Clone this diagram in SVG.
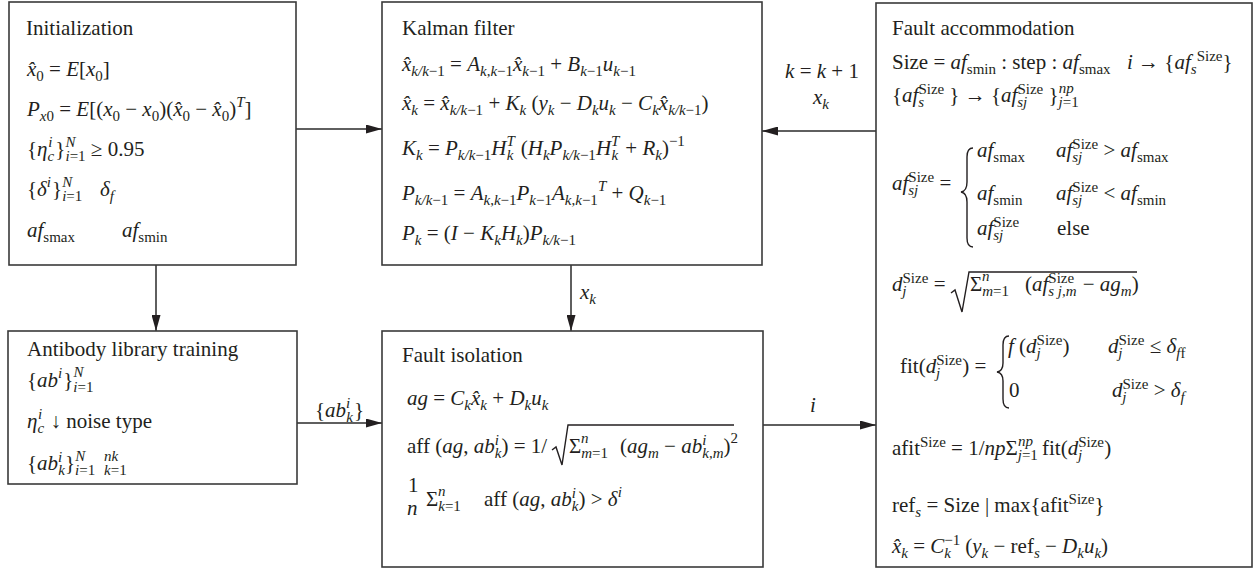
<svg xmlns="http://www.w3.org/2000/svg" width="1255" height="569" viewBox="0 0 1255 569">
<defs>
<style>
text{font-family:"Liberation Serif","Times New Roman",serif;font-size:21px;fill:#231f20}
.i{font-style:italic}
.s{font-size:15px}
.box{fill:#fff;stroke:#3a3a3a;stroke-width:1.6}
.ln{fill:none;stroke:#2a2a2a;stroke-width:1.5}
.mth{fill:none;stroke:#231f20;stroke-width:1.4}
</style>
<marker id="arr" viewBox="0 0 16 9" refX="16" refY="4.5" markerWidth="16" markerHeight="9" markerUnits="userSpaceOnUse" orient="auto"><path d="M0,0 L16,4.5 L0,9 z" fill="#231f20"/></marker>
</defs>
<rect width="1255" height="569" fill="#fff"/>

<g id="connectors">
<path class="ln" d="M296,129 H382" marker-end="url(#arr)"/>
<path class="ln" d="M876,131 H762" marker-end="url(#arr)"/>
<path class="ln" d="M156,265 V331" marker-end="url(#arr)"/>
<path class="ln" d="M571,265 V331" marker-end="url(#arr)"/>
<path class="ln" d="M297,423 H382" marker-end="url(#arr)"/>
<path class="ln" d="M763,425 H876" marker-end="url(#arr)"/>
<text x="822" y="78" text-anchor="middle"><tspan class="i">k</tspan> = <tspan class="i">k</tspan> + 1</text>
<text x="813" y="104"><tspan class="i">x</tspan><tspan class="s i" y="109">k</tspan></text>
<text x="580" y="299"><tspan class="i">x</tspan><tspan class="s i" y="304">k</tspan></text>
<text x="315" y="417">{<tspan class="i">ab</tspan><tspan class="s i" y="408">i</tspan><tspan class="s i" y="422" dx="-4">k</tspan><tspan y="417" dx="1">}</tspan></text>
<text x="810" y="412" class="i">i</text>
</g>

<g id="init">
<rect class="box" x="9" y="2" width="287" height="263"/>
<text x="26" y="35">Initialization</text>
<text x="27" y="76"><tspan class="i">x&#x302;</tspan><tspan class="s" y="81">0</tspan><tspan y="76"> = <tspan class="i">E</tspan>[<tspan class="i">x</tspan></tspan><tspan class="s" y="81">0</tspan><tspan y="76">]</tspan></text>
<text x="27" y="116"><tspan class="i">P</tspan><tspan class="s" y="121"><tspan class="i">x</tspan>0</tspan><tspan y="116"> = <tspan class="i">E</tspan>[(<tspan class="i">x</tspan></tspan><tspan class="s" y="121">0</tspan><tspan y="116"> − <tspan class="i">x</tspan></tspan><tspan class="s" y="121">0</tspan><tspan y="116">)(<tspan class="i">x&#x302;</tspan></tspan><tspan class="s" y="121">0</tspan><tspan y="116"> − <tspan class="i">x&#x302;</tspan></tspan><tspan class="s" y="121">0</tspan><tspan y="116">)</tspan><tspan class="s i" y="107">T</tspan><tspan y="116">]</tspan></text>
<text x="27" y="156">{<tspan class="i">η</tspan><tspan class="s i" y="161">c</tspan><tspan class="s i" dx="-6" y="147">i</tspan><tspan y="156" dx="3">}</tspan><tspan class="s" y="161"><tspan class="i">i</tspan>=1</tspan><tspan class="s i" dx="-20" y="147">N</tspan><tspan y="156" dx="10"> ≥ 0.95</tspan></text>
<text x="27" y="196">{<tspan class="i">δ</tspan><tspan class="s i" y="187">i</tspan><tspan y="196" dx="1">}</tspan><tspan class="s" y="201"><tspan class="i">i</tspan>=1</tspan><tspan class="s i" dx="-20" y="187">N</tspan><tspan class="i" y="196" x="100">δ</tspan><tspan class="s i" y="201">f</tspan></text>
<text x="27" y="237"><tspan class="i">af</tspan><tspan class="s" y="242">smax</tspan><tspan class="i" y="237" x="122">af</tspan><tspan class="s" y="242">smin</tspan></text>
</g>

<g id="kalman">
<rect class="box" x="382" y="2" width="380" height="263"/>
<text x="402" y="35">Kalman filter</text>
<text x="402" y="71"><tspan class="i">x&#x302;</tspan><tspan class="s" y="76"><tspan class="i">k/k</tspan>−1</tspan><tspan y="71"> = <tspan class="i">A</tspan></tspan><tspan class="s" y="76"><tspan class="i">k</tspan>,<tspan class="i">k</tspan>−1</tspan><tspan class="i" y="71">x&#x302;</tspan><tspan class="s" y="76"><tspan class="i">k</tspan>−1</tspan><tspan y="71"> + <tspan class="i">B</tspan></tspan><tspan class="s" y="76"><tspan class="i">k</tspan>−1</tspan><tspan class="i" y="71">u</tspan><tspan class="s" y="76"><tspan class="i">k</tspan>−1</tspan></text>
<text x="402" y="110"><tspan class="i">x&#x302;</tspan><tspan class="s i" y="115">k</tspan><tspan y="110"> = <tspan class="i">x&#x302;</tspan></tspan><tspan class="s" y="115"><tspan class="i">k/k</tspan>−1</tspan><tspan y="110"> + <tspan class="i">K</tspan></tspan><tspan class="s i" y="115">k</tspan><tspan y="110"> (<tspan class="i">y</tspan></tspan><tspan class="s i" y="115">k</tspan><tspan y="110"> − <tspan class="i">D</tspan></tspan><tspan class="s i" y="115">k</tspan><tspan class="i" y="110">u</tspan><tspan class="s i" y="115">k</tspan><tspan y="110"> − <tspan class="i">C</tspan></tspan><tspan class="s i" y="115">k</tspan><tspan class="i" y="110">x&#x302;</tspan><tspan class="s" y="115"><tspan class="i">k/k</tspan>−1</tspan><tspan y="110">)</tspan></text>
<text x="402" y="155"><tspan class="i">K</tspan><tspan class="s i" y="160">k</tspan><tspan y="155"> = <tspan class="i">P</tspan></tspan><tspan class="s" y="160"><tspan class="i">k/k</tspan>−1</tspan><tspan class="i" y="155">H</tspan><tspan class="s i" y="146">T</tspan><tspan class="s i" y="160" dx="-8">k</tspan><tspan y="155" dx="2"> (<tspan class="i">H</tspan></tspan><tspan class="s i" y="160">k</tspan><tspan class="i" y="155">P</tspan><tspan class="s" y="160"><tspan class="i">k/k</tspan>−1</tspan><tspan class="i" y="155">H</tspan><tspan class="s i" y="146">T</tspan><tspan class="s i" y="160" dx="-8">k</tspan><tspan y="155" dx="2"> + <tspan class="i">R</tspan></tspan><tspan class="s i" y="160">k</tspan><tspan y="155">)</tspan><tspan class="s" y="146">−1</tspan></text>
<text x="402" y="200"><tspan class="i">P</tspan><tspan class="s" y="205"><tspan class="i">k/k</tspan>−1</tspan><tspan y="200"> = <tspan class="i">A</tspan></tspan><tspan class="s" y="205"><tspan class="i">k</tspan>,<tspan class="i">k</tspan>−1</tspan><tspan class="i" y="200">P</tspan><tspan class="s" y="205"><tspan class="i">k</tspan>−1</tspan><tspan class="i" y="200">A</tspan><tspan class="s" y="205"><tspan class="i">k</tspan>,<tspan class="i">k</tspan>−1</tspan><tspan class="s i" y="191">T</tspan><tspan y="200"> + <tspan class="i">Q</tspan></tspan><tspan class="s" y="205"><tspan class="i">k</tspan>−1</tspan></text>
<text x="402" y="240"><tspan class="i">P</tspan><tspan class="s i" y="245">k</tspan><tspan y="240"> = (<tspan class="i">I</tspan> − <tspan class="i">K</tspan></tspan><tspan class="s i" y="245">k</tspan><tspan class="i" y="240">H</tspan><tspan class="s i" y="245">k</tspan><tspan y="240">)<tspan class="i">P</tspan></tspan><tspan class="s" y="245"><tspan class="i">k/k</tspan>−1</tspan></text>
</g>

<g id="accommodation">
<rect class="box" x="876" y="3" width="376" height="564"/>
<text x="892" y="35">Fault accommodation</text>
<text x="892" y="69">Size = <tspan class="i">af</tspan><tspan class="s" y="74">smin</tspan><tspan y="69"> : step : <tspan class="i">af</tspan></tspan><tspan class="s" y="74">smax</tspan></text>
<text x="1127" y="69"><tspan class="i">i</tspan> → {<tspan class="i">af</tspan><tspan class="s i" y="74">s</tspan><tspan class="s" y="61">Size</tspan><tspan y="69">}</tspan></text>
<text x="892" y="102">{<tspan class="i">af</tspan><tspan class="s" y="94">Size</tspan><tspan class="s i" y="107" dx="-26">s</tspan><tspan y="102" dx="20"> } → {<tspan class="i">af</tspan></tspan><tspan class="s" y="94">Size</tspan><tspan class="s i" y="107" dx="-26">sj</tspan><tspan y="102" dx="16"> }</tspan><tspan class="s i" y="107">j</tspan><tspan class="s" y="107">=1</tspan><tspan class="s i" y="93" dx="-20">np</tspan></text>
<text x="892" y="190"><tspan class="i">af</tspan><tspan class="s" y="182">Size</tspan><tspan class="s i" y="195" dx="-26">sj</tspan><tspan y="190" dx="16"> =</tspan></text>
<path class="mth" d="M973,148 Q967,148 967,157 L967,182 Q967,191 961,192 Q967,193 967,202 L967,238 Q967,247 973,247" stroke-width="1.8"/>
<text x="977" y="157"><tspan class="i">af</tspan><tspan class="s" y="162">smax</tspan></text>
<text x="1056" y="157"><tspan class="i">af</tspan><tspan class="s" y="149">Size</tspan><tspan class="s i" y="162" dx="-26">sj</tspan><tspan y="157" dx="16"> &gt; <tspan class="i">af</tspan></tspan><tspan class="s" y="162">smax</tspan></text>
<text x="977" y="200"><tspan class="i">af</tspan><tspan class="s" y="205">smin</tspan></text>
<text x="1056" y="200"><tspan class="i">af</tspan><tspan class="s" y="192">Size</tspan><tspan class="s i" y="205" dx="-26">sj</tspan><tspan y="200" dx="16"> &lt; <tspan class="i">af</tspan></tspan><tspan class="s" y="205">smin</tspan></text>
<text x="977" y="235"><tspan class="i">af</tspan><tspan class="s" y="227">Size</tspan><tspan class="s i" y="240" dx="-26">sj</tspan></text>
<text x="1057" y="235">else</text>
<text x="892" y="291"><tspan class="i">d</tspan><tspan class="s" y="283">Size</tspan><tspan class="s i" y="296" dx="-26">j</tspan><tspan y="291" dx="22"> =</tspan></text>
<path class="mth" d="M951,293 L955,290 L962,312 L969,272 L1137,272"/>
<text x="970" y="291">Σ<tspan class="s" y="296"><tspan class="i">m</tspan>=1</tspan><tspan class="s i" y="281" dx="-27">n</tspan><tspan y="291" x="1025">(<tspan class="i">af</tspan></tspan><tspan class="s" y="283">Size</tspan><tspan class="s i" y="296" dx="-26">s j,m</tspan><tspan y="291" dx="1"> − <tspan class="i">ag</tspan></tspan><tspan class="s i" y="296">m</tspan><tspan y="291">)</tspan></text>
<text x="900" y="373">fit(<tspan class="i">d</tspan><tspan class="s" y="365">Size</tspan><tspan class="s i" y="378" dx="-26">j</tspan><tspan y="373" dx="22">) =</tspan></text>
<path class="mth" d="M1009,336 Q1003,336 1003,345 L1003,363 Q1003,371 997,372 Q1003,373 1003,381 L1003,399 Q1003,408 1009,408" stroke-width="1.8"/>
<text x="1008" y="353"><tspan class="i">f</tspan> (<tspan class="i">d</tspan><tspan class="s" y="345">Size</tspan><tspan class="s i" y="358" dx="-26">j</tspan><tspan y="353" dx="22">)</tspan></text>
<text x="1108" y="353"><tspan class="i">d</tspan><tspan class="s" y="345">Size</tspan><tspan class="s i" y="358" dx="-26">j</tspan><tspan y="353" dx="22"> ≤ <tspan class="i">δ</tspan></tspan><tspan class="s" y="358"><tspan class="i">f</tspan>f</tspan></text>
<text x="1009" y="397">0</text>
<text x="1112" y="397"><tspan class="i">d</tspan><tspan class="s" y="389">Size</tspan><tspan class="s i" y="402" dx="-26">j</tspan><tspan y="397" dx="22"> &gt; <tspan class="i">δ</tspan></tspan><tspan class="s i" y="402">f</tspan></text>
<text x="892" y="455">afit<tspan class="s" y="447">Size</tspan><tspan y="455"> = 1/<tspan class="i">np</tspan>Σ</tspan><tspan class="s" y="460"><tspan class="i">j</tspan>=1</tspan><tspan class="s i" y="446" dx="-20">np</tspan><tspan y="455" x="1042">fit(<tspan class="i">d</tspan></tspan><tspan class="s" y="447">Size</tspan><tspan class="s i" y="460" dx="-26">j</tspan><tspan y="455" dx="22">)</tspan></text>
<text x="892" y="512">ref<tspan class="s i" y="517">s</tspan><tspan y="512"> = Size | max{afit</tspan><tspan class="s" y="504">Size</tspan><tspan y="512">}</tspan></text>
<text x="892" y="553"><tspan class="i">x&#x302;</tspan><tspan class="s i" y="558">k</tspan><tspan y="553"> = <tspan class="i">C</tspan></tspan><tspan class="s" y="545">−1</tspan><tspan class="s i" y="558" dx="-16">k</tspan><tspan y="553" dx="9"> (<tspan class="i">y</tspan></tspan><tspan class="s i" y="558">k</tspan><tspan y="553"> − ref</tspan><tspan class="s i" y="558">s</tspan><tspan y="553"> − <tspan class="i">D</tspan></tspan><tspan class="s i" y="558">k</tspan><tspan class="i" y="553">u</tspan><tspan class="s i" y="558">k</tspan><tspan y="553">)</tspan></text>
</g>

<g id="antibody">
<rect class="box" x="8" y="331" width="289" height="153"/>
<text x="27" y="356">Antibody library training</text>
<text x="27" y="387">{<tspan class="i">ab</tspan><tspan class="s i" y="378">i</tspan><tspan y="387" dx="1">}</tspan><tspan class="s" y="392"><tspan class="i">i</tspan>=1</tspan><tspan class="s i" y="377" dx="-20">N</tspan></text>
<text x="27" y="428"><tspan class="i">η</tspan><tspan class="s i" y="433">c</tspan><tspan class="s i" y="419" dx="-6">i</tspan><tspan y="428" dx="3"> ↓ noise type</tspan></text>
<text x="27" y="470">{<tspan class="i">ab</tspan><tspan class="s i" y="462">i</tspan><tspan class="s i" y="475" dx="-4">k</tspan><tspan y="470">}</tspan><tspan class="s" y="475"><tspan class="i">i</tspan>=1</tspan><tspan class="s i" y="461" dx="-20">N</tspan><tspan class="s i" y="461" x="104">nk</tspan><tspan class="s" y="475" x="104"><tspan class="i">k</tspan>=1</tspan></text>
</g>

<g id="isolation">
<rect class="box" x="382" y="331" width="381" height="236"/>
<text x="402" y="362">Fault isolation</text>
<text x="407" y="405"><tspan class="i">ag</tspan> = <tspan class="i">C</tspan><tspan class="s i" y="410">k</tspan><tspan class="i" y="405">x&#x302;</tspan><tspan class="s i" y="410">k</tspan><tspan y="405"> + <tspan class="i">D</tspan></tspan><tspan class="s i" y="410">k</tspan><tspan class="i" y="405">u</tspan><tspan class="s i" y="410">k</tspan></text>
<text x="407" y="453">aff (<tspan class="i">ag</tspan>, <tspan class="i">ab</tspan><tspan class="s i" y="445">i</tspan><tspan class="s i" y="458" dx="-4">k</tspan><tspan y="453">) = 1/</tspan></text>
<path class="mth" d="M552,450 L556,447 L562,465 L568,425 L734,425"/>
<text x="569" y="453">Σ<tspan class="s" y="458"><tspan class="i">m</tspan>=1</tspan><tspan class="s i" y="443" dx="-27">n</tspan><tspan y="453" x="620">(<tspan class="i">ag</tspan></tspan><tspan class="s i" y="458">m</tspan><tspan y="453"> − <tspan class="i">ab</tspan></tspan><tspan class="s i" y="445">i</tspan><tspan class="s i" y="458" dx="-4">k,m</tspan><tspan y="453">)</tspan><tspan class="s" y="443">2</tspan></text>
<text x="408" y="492">1</text>
<text x="407" y="515" class="i">n</text>
<text x="426" y="506">Σ<tspan class="s" y="511"><tspan class="i">k</tspan>=1</tspan><tspan class="s i" y="496" dx="-23">n</tspan><tspan y="506" x="484">aff (<tspan class="i">ag</tspan>, <tspan class="i">ab</tspan></tspan><tspan class="s i" y="498">i</tspan><tspan class="s i" y="511" dx="-4">k</tspan><tspan y="506">) &gt; <tspan class="i">δ</tspan></tspan><tspan class="s i" y="497">i</tspan></text>
</g>
</svg>
